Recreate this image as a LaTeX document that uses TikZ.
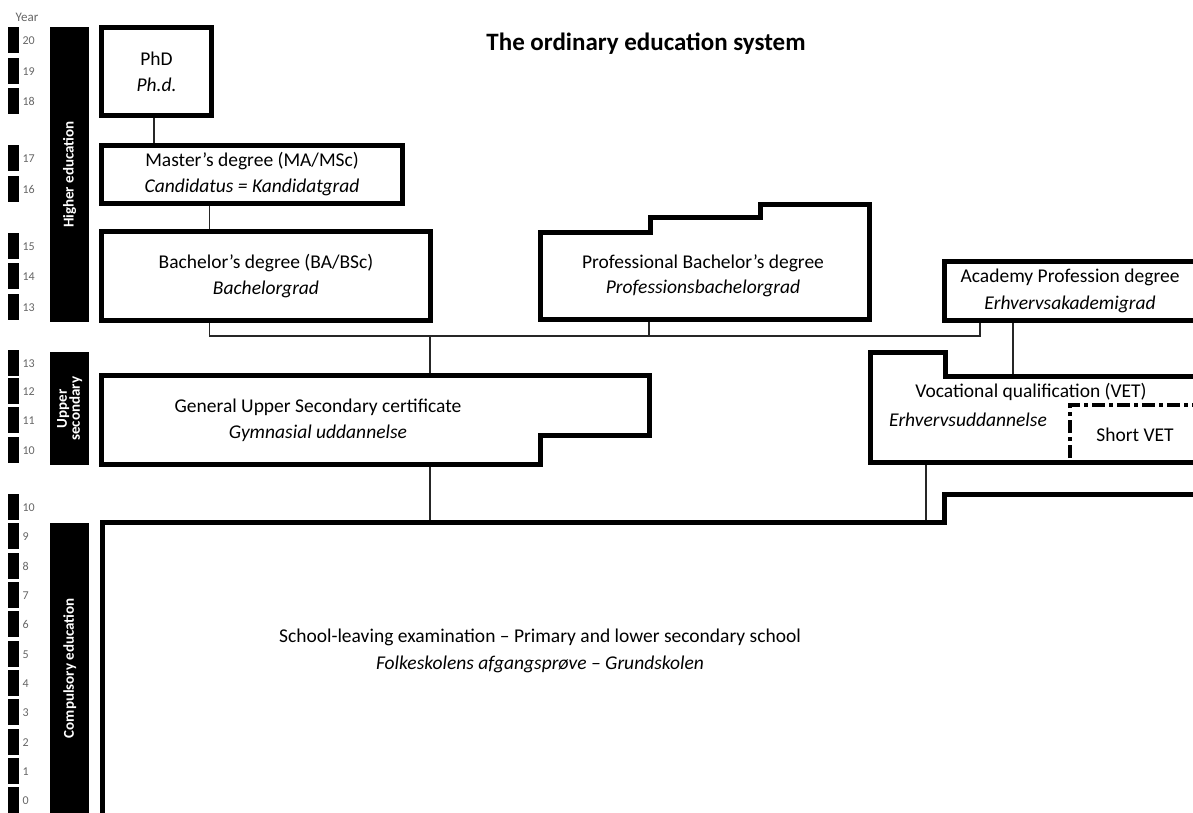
\documentclass[tikz,border=0pt]{standalone}
\usepackage{fontspec}
\setmainfont{Carlito}
\usetikzlibrary{positioning}

\begin{document}
\begin{tikzpicture}[x=1pt, y=-1pt,
  year box/.style={fill=black, minimum width=11pt, minimum height=26pt, inner sep=0pt, anchor=north west},
  year label/.style={font=\fontsize{12}{14}\selectfont, text=black!60, inner sep=0pt},
  level bar/.style={fill=black, minimum width=39pt, inner sep=0pt, anchor=north west},
  bar label/.style={rotate=90, text=white, font=\bfseries\fontsize{15}{16}\selectfont, align=center},
  degree box/.style={draw, line width=5pt, inner sep=0pt, align=center, font=\fontsize{19.5}{26}\selectfont},
  degree text/.style={font=\fontsize{19.5}{23}\selectfont, inner sep=0pt},
  edu line/.style={line width=5pt},
  short line/.style={line width=4pt, dash pattern=on 13pt off 4pt on 4pt off 4pt},
  link/.style={line width=1.2pt, black!85}
]
  \useasboundingbox (0,0) rectangle (1193,812);
  \clip (0,0) rectangle (1193,812);

  % year scale
  \node[year label, font=\fontsize{13}{15}\selectfont] (year) at (27,17) {Year};
  \foreach \yr/\top [count=\i] in {20/27, 19/58, 18/88, 17/145, 16/176, 15/233, 14/263, 13/294,
      13/350, 12/378, 11/407, 10/437, 10/494, 9/523, 8/553, 7/582, 6/611, 5/641, 4/670,
      3/699, 2/729, 1/758, 0/787} {
    \node[year box] (yb\i) at (8,\top) {};
    \node[year label, right=3pt of yb\i] (yl\i) {\yr};
  }

  % levels
  \node[level bar, minimum height=295pt] (higher) at (50,27) {};
  \node[level bar, minimum height=113pt] (upper) at (50,352) {};
  \node[level bar, minimum height=290pt] (compulsory) at (50,523) {};
  \node[bar label] (higher-lbl) at (higher.center) {Higher education};
  \node[bar label] (upper-lbl) at (upper.center) {Upper\\[-3pt]secondary};
  \node[bar label] (compulsory-lbl) at (compulsory.center) {Compulsory education};

  \node[font=\bfseries\fontsize{25}{30}\selectfont] (title) at (646,44) {The ordinary education system};

  % higher education
  \node[degree box, minimum width=110pt, minimum height=88pt] (phd) at (156.5,71.5) {PhD\\\textit{Ph.d.}};
  \node[degree box, minimum width=301pt, minimum height=58pt] (master) at (252,174.5)
    {Master's degree (MA/MSc)\\\textit{Candidatus = Kandidatgrad}};
  \node[degree box, minimum width=329pt, minimum height=89pt] (bachelor) at (266,276)
    {Bachelor's degree (BA/BSc)\\\textit{Bachelorgrad}};
  \node[degree box, minimum width=256pt, minimum height=59pt] (academy) at (1072.5,291) {};
  \node[degree text] (academy-en) at (1070,277) {Academy Profession degree};
  \node[degree text] (academy-dk) at (1070,304) {\textit{Erhvervsakademigrad}};

  \draw[edu line] (540.5,319.5) -- (540.5,232.5) -- (650,232.5) -- (650,217) -- (760,217)
    -- (760,204.5) -- (869.5,204.5) -- (869.5,319.5) -- cycle;
  \node[degree text] (profbach-en) at (703,263) {Professional Bachelor's degree};
  \node[degree text] (profbach-dk) at (703,288) {\textit{Professionsbachelorgrad}};

  % upper secondary
  \draw[edu line] (101.5,375.5) -- (649.5,375.5) -- (649.5,435.5) -- (540.5,435.5)
    -- (540.5,464.5) -- (101.5,464.5) -- cycle;
  \node[degree text] (general-en) at (318,407) {General Upper Secondary certificate};
  \node[degree text] (general-dk) at (318,433) {\textit{Gymnasial uddannelse}};

  \draw[edu line] (1200,376.5) -- (945,376.5) -- (945,352.5) -- (870.5,352.5)
    -- (870.5,462.5) -- (1200,462.5);
  \node[degree text] (vet-en) at (1031,392) {Vocational qualification (VET)};
  \node[degree text] (vet-dk) at (968,420) {\textit{Erhvervsuddannelse}};
  \draw[short line] (1070,458) -- (1070,405) -- (1200,405);
  \node[degree text] (shortvet) at (1135,435) {Short VET};

  % compulsory education
  \draw[edu line] (102,830) -- (102,522.5) -- (944.5,522.5) -- (944.5,494.5) -- (1200,494.5);
  \node[degree text] (school-en) at (540,637) {School-leaving examination -- Primary and lower secondary school};
  \node[degree text] (school-dk) at (540,664) {\textit{Folkeskolens afgangsprøve -- Grundskolen}};

  % connections
  \coordinate (profbach-s) at (649,322);
  \coordinate (general-n) at (430,373);
  \coordinate (general-s) at (430,467);
  \coordinate (vet-n) at (1013,374);
  \coordinate (vet-s) at (926,465);
  \coordinate (school-n) at (926,520);
  \coordinate (hub-w) at (209.5,336);
  \coordinate (hub-e) at (980,336);

  \draw[link] (phd.south -| 154,0) -- (master.north -| 154,0);
  \draw[link] (master.south -| hub-w) -- (bachelor.north -| hub-w);
  \draw[link] (bachelor.south -| hub-w) -- (hub-w) -- (hub-e) -- (hub-e |- academy.south);
  \draw[link] (profbach-s) -- (profbach-s |- hub-w);
  \draw[link] (general-n |- hub-w) -- (general-n);
  \draw[link] (vet-n |- academy.south) -- (vet-n);
  \draw[link] (general-s) -- (general-s |- school-n);
  \draw[link] (vet-s) -- (school-n);
\end{tikzpicture}
\end{document}
